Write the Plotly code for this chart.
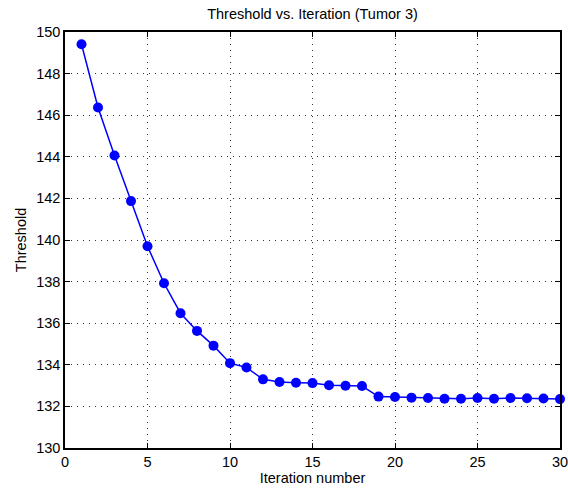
import plotly.graph_objects as go

iterations = list(range(1, 31))
thresholds = [149.41, 146.37, 144.06, 141.87, 139.70, 137.92, 136.48, 135.63, 134.92, 134.08,
              133.87, 133.30, 133.17, 133.14, 133.12, 133.02, 132.99, 132.98, 132.47, 132.45,
              132.42, 132.40, 132.37, 132.37, 132.40, 132.37, 132.40, 132.39, 132.38, 132.35]

x_ticks = [0, 5, 10, 15, 20, 25, 30]
y_ticks = [130, 132, 134, 136, 138, 140, 142, 144, 146, 148, 150]

fig = go.Figure()
fig.add_trace(go.Scatter(
    x=iterations, y=thresholds, mode="lines+markers",
    line=dict(color="#0000FF", width=1.5),
    marker=dict(color="#0000FF", size=10, symbol="circle"),
    showlegend=False, cliponaxis=False,
))

family = "Liberation Sans, Arial, Helvetica, sans-serif"
font = dict(family=family, color="black", size=14.5)

axis_common = dict(
    showline=True, linecolor="black", linewidth=1.5, mirror="ticks",
    ticks="inside", ticklen=5, tickcolor="black", tickwidth=1,
    showgrid=True, gridcolor="#333333", gridwidth=1, griddash="1px,5px",
    zeroline=False, tickfont=font, automargin=False, ticklabeloverflow="allow",
)

fig.update_layout(
    width=568, height=488,
    paper_bgcolor="white", plot_bgcolor="white",
    margin=dict(l=65, r=8, t=32, b=40),
    title=dict(text="Threshold vs. Iteration (Tumor 3)", x=(65 + 560) / 2 / 568, xanchor="center",
               y=1 - 14 / 488, yanchor="middle", font=dict(family=family, size=14.5, color="black")),
    xaxis=dict(range=[0, 30], tickvals=x_ticks, title=dict(text="Iteration number", font=font, standoff=0), **axis_common),
    yaxis=dict(range=[130, 150], tickvals=y_ticks, title=dict(text="Threshold", font=font, standoff=6), **axis_common),
)

fig.write_html("out.html")
